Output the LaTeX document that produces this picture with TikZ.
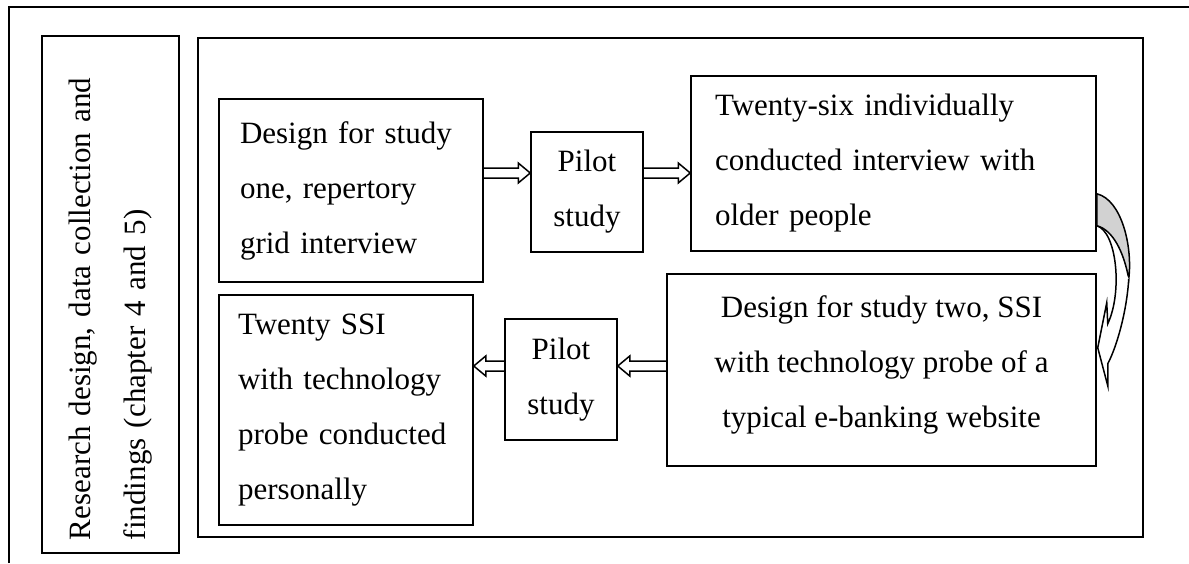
\documentclass[tikz,border=0pt]{standalone}
\usepackage{fontspec}
\setmainfont{Liberation Serif}
\usetikzlibrary{calc}

\tikzset{
  stage/.style={draw, line width=0.75pt, inner sep=0pt, font=\fontsize{15.5pt}{27.5pt}\selectfont},
  hollow/.style={line width=0.75pt, line join=miter, to path={
    let \p1=(\tikztostart), \p2=(\tikztotarget), \p3=($(\x2,\y1)!6pt!(\p1)$) in
    (\x1,\y1+2.5pt) -- (\x3,\y1+2.5pt) -- (\x3,\y1+5pt) -- (\x2,\y1)
    -- (\x3,\y1-5pt) -- (\x3,\y1-2.5pt) -- (\x1,\y1-2.5pt)}},
}

\begin{document}
\begin{tikzpicture}[x=0.5pt,y=-0.5pt]
  \useasboundingbox (0,0) rectangle (1189,563);
  \draw[line width=1pt] (9,563) -- (9,7) -- (1189,7);
  \node[stage, rotate=90, minimum width=258.5pt, minimum height=68.5pt,
    text width=245.5pt, align=left] (side) at (110.5,294.5)
    {Research design, data collection and\\findings (chapter 4 and 5)};
  \draw[line width=1pt] (198,38) rectangle (1143,537);
  % upper row
  \node[stage, minimum width=132pt, minimum height=91.5pt, text width=111pt, align=left]
    (b1) at (351,190.5) {Design for study\\one, repertory\\grid interview};
  \node[stage, minimum width=56pt, minimum height=60pt, align=center]
    (p1) at (587,192) {Pilot\\study};
  \node[stage, minimum width=202.5pt, minimum height=87.5pt, text width=178.5pt, align=left]
    (b3) at (893.5,163.5) {Twenty-six individually\\conducted interview with\\older people};
  % lower row
  \node[stage, minimum width=214.5pt, minimum height=96pt, align=center]
    (b4) at (881.5,370) {Design for study two, SSI\\with technology probe of a\\typical e-banking website\\[-19.5pt]\mbox{}};
  \node[stage, minimum width=56pt, minimum height=60.5pt, align=center]
    (p2) at (561,379.5) {Pilot\\study};
  \node[stage, minimum width=127pt, minimum height=115pt, text width=108pt, align=left]
    (b5) at (346,410) {Twenty SSI\\with technology\\probe conducted\\personally};
  % connectors
  \coordinate (upper) at (0,173);
  \coordinate (lower) at (0,366);
  \draw[hollow] (b1.east |- upper) to (p1.west);
  \draw[hollow] (p1.east |- upper) to (b3.west);
  \draw[hollow] (b4.west |- lower) to (p2.east);
  \draw[hollow] (p2.west |- lower) to (b5.east);
  % curved arrow from b3 down to b4
  \begin{scope}[shift={(b3.south east)}, line width=0.75pt, line join=miter]
    \filldraw[fill=gray!35] (0,-58) .. controls (25,-52) and (36,-5) .. (32,27)
      .. controls (27,0) and (16,-22) .. (0,-26) -- cycle;
    \filldraw[fill=white] (32,27) .. controls (30,60) and (20,95) .. (11,112)
      -- (11,134) -- (1,96) -- (10,51) -- (11,72) .. controls (26,40) and (20,-20) .. (0,-26);
  \end{scope}
\end{tikzpicture}
\end{document}
